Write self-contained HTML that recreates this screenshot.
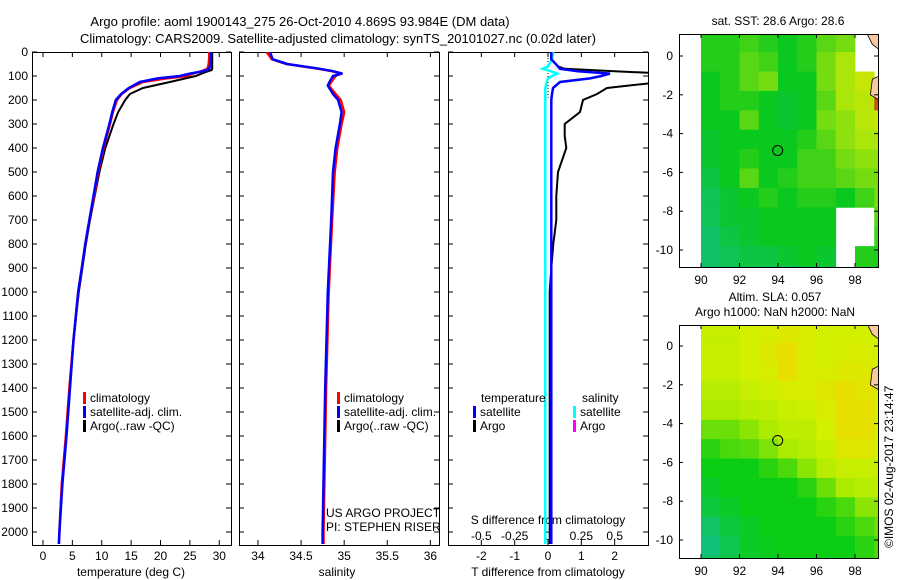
<!DOCTYPE html>
<html><head><meta charset="utf-8"><style>
body{margin:0;background:#fff;}
svg{display:block;font-family:"Liberation Sans",sans-serif;font-size:12px;}
</style></head><body>
<svg id="c" width="900" height="580" viewBox="0 0 900 580" xmlns="http://www.w3.org/2000/svg">
<text x="300" y="26" text-anchor="middle" font-size="13">Argo profile: aoml 1900143_275 26-Oct-2010 4.869S 93.984E (DM data)</text>
<text x="338" y="43" text-anchor="middle" font-size="13">Climatology: CARS2009. Satellite-adjusted climatology: synTS_20101027.nc (0.02d later)</text>
<text x="778" y="25" text-anchor="middle">sat. SST: 28.6 Argo: 28.6</text>
<text x="775" y="301" text-anchor="middle">Altim. SLA: 0.057</text>
<text x="775" y="316" text-anchor="middle">Argo h1000: NaN h2000: NaN</text>
<text transform="translate(893,548) rotate(-90)" font-size="12">©IMOS 02-Aug-2017 23:14:47</text>
<g id="g"></g>
</svg>
<script>
// ---- data ----
const depths = [0,20,50,70,80,90,100,110,125,150,175,200,250,300,400,500,600,700,800,900,1000,1200,1400,1600,1800,2000,2050];
const tempClim = [28.3,28.3,28.2,28.0,27.0,25.5,24.5,21.0,17.0,14.8,13.4,12.6,11.9,11.4,10.3,9.4,8.7,7.9,7.2,6.6,6.0,5.2,4.5,3.9,3.2,2.8,2.7];
const tempSat = [28.6,28.6,28.5,28.3,27.3,25.0,23.3,19.5,16.5,14.6,13.3,12.4,11.8,11.3,10.2,9.3,8.6,7.9,7.2,6.6,6.0,5.2,4.6,4.0,3.3,2.8,2.7];
const argoDepths = [0,20,50,70,75,85,100,125,150,175,200,250,300,400,500,600,700,800,900,1000,1200,1400,1600,1800,2000];
const tempArgo = [28.8,28.8,28.8,28.8,28.7,27.5,26.0,21.6,17.0,14.8,14.0,12.8,12.0,10.6,9.6,8.8,8.0,7.3,6.7,6.1,5.2,4.5,3.9,3.2,2.8];
const salDepths = [0,30,50,70,80,90,100,125,140,175,200,250,300,400,500,700,1000,1400,2000,2050];
const salClim = [34.10,34.16,34.33,34.70,34.86,34.95,34.90,34.85,34.82,34.90,34.96,35.00,34.97,34.92,34.89,34.86,34.82,34.79,34.76,34.76];
const salSat = [34.14,34.17,34.34,34.72,34.87,34.98,34.87,34.83,34.81,34.87,34.93,34.97,34.95,34.90,34.87,34.85,34.81,34.78,34.75,34.75];
const diffDepths = [0,30,60,70,80,90,100,110,125,150,175,200,250,300,350,400,500,600,700,800,900,1000,1200,1500,2000,2050];
const dTsat = [0.1,0.1,0.3,0.36,0.9,1.86,1.6,1.26,0.36,0.15,0.12,0.1,0.1,0.1,0.1,0.1,0.1,0.1,0.1,0.1,0.1,0.1,0.1,0.1,0.1,0.1];
const dTargo = [0.1,0.1,0.3,0.5,2.0,3.5,3.5,3.5,3.4,1.77,1.47,1.05,0.96,0.5,0.5,0.55,0.3,0.25,0.25,0.16,0.1,0.05,0.05,0.05,0.05,0.05];
const dSsat = [0.04,0.03,0.0,-0.04,0.02,0.07,0.03,0.0,-0.01,-0.02,-0.02,-0.02,-0.02,-0.02,-0.02,-0.02,-0.02,-0.02,-0.02,-0.02,-0.02,-0.02,-0.02,-0.02,-0.02,-0.02];
const depthTicks = [0,100,200,300,400,500,600,700,800,900,1000,1100,1200,1300,1400,1500,1600,1700,1800,1900,2000];
const tempTicks = [0,5,10,15,20,25,30];
const salTicks = [34,34.5,35,35.5,36];
const salTickLabels = ["34","34.5","35","35.5","36"];
const tdTicks = [-2,-1,0,1,2];
const sdTicks = [-0.5,-0.25,0,0.25,0.5];
const sdTickLabels = ["-0.5","-0.25","0","0.25","0.5"];
const lonTicks = [90,92,94,96,98];
const latTicks = [0,-2,-4,-6,-8,-10];
// map grids: rows from lat 1.2 southward (1 deg), cols from lon 90 (1 deg); -1 = no data
const sstGrid = [
[0.35,0.35,0.4,0.35,0.3,0.35,0.45,0.5,-1,-1],
[0.35,0.35,0.45,0.4,0.3,0.35,0.5,0.6,-1,-1],
[0.3,0.35,0.45,0.5,0.3,0.3,0.5,0.6,0.7,-1],
[0.3,0.35,0.35,0.3,0.25,0.3,0.45,0.6,0.65,0.95],
[0.3,0.3,0.45,0.3,0.25,0.3,0.5,0.55,0.65,0.7],
[0.25,0.3,0.3,0.3,0.3,0.35,0.45,0.55,0.6,0.6],
[0.25,0.3,0.35,0.3,0.3,0.4,0.4,0.5,0.55,0.55],
[0.2,0.3,0.45,0.3,0.35,0.4,0.4,0.45,0.5,0.5],
[0.15,0.25,0.3,0.35,0.3,0.35,0.35,0.3,0.4,0.5],
[0.15,0.25,0.25,0.3,0.3,0.3,0.3,-1,-1,0.45],
[0.1,0.2,0.25,0.3,0.3,0.3,0.3,-1,-1,0.4],
[0.1,0.15,0.2,0.2,0.25,0.3,0.25,-1,0.35,0.35],
[0.1,0.15,0.2,0.15,0.15,0.25,0.25,-1,0.35,0.3]];
const slaGrid = [
[0.65,0.65,0.7,0.72,0.75,0.72,0.7,0.7,0.7,0.7],
[0.65,0.65,0.7,0.75,0.8,0.72,0.7,0.72,0.72,0.7],
[0.65,0.65,0.7,0.72,0.8,0.72,0.72,0.75,0.75,0.72],
[0.6,0.6,0.65,0.68,0.72,0.72,0.76,0.8,0.78,0.72],
[0.55,0.55,0.6,0.62,0.66,0.68,0.72,0.8,0.8,0.72],
[0.45,0.45,0.5,0.55,0.62,0.62,0.7,0.8,0.8,0.72],
[0.35,0.4,0.42,0.48,0.55,0.6,0.66,0.76,0.76,0.7],
[0.3,0.3,0.3,0.35,0.4,0.5,0.6,0.65,0.65,0.65],
[0.25,0.3,0.3,0.3,0.3,0.35,0.45,0.55,0.6,0.6],
[0.2,0.25,0.3,0.3,0.3,0.3,0.35,0.4,0.5,0.5],
[0.1,0.2,0.25,0.3,0.3,0.3,0.3,0.35,0.4,0.45],
[0.05,0.15,0.25,0.28,0.3,0.3,0.3,0.3,0.35,0.4],
[0.1,0.2,0.25,0.28,0.3,0.3,0.3,0.3,0.35,0.4]];
const argoLon = 93.984, argoLat = -4.869;

// ---- helpers ----
const NS="http://www.w3.org/2000/svg", G=document.getElementById('g');
function mk(t,a,p){const e=document.createElementNS(NS,t);for(const k in a)e.setAttribute(k,a[k]);(p||G).appendChild(e);return e;}
const TOP=52, BOT=545;
const yD = d => TOP + d*0.24;
const panels = [
 {x0:32,x1:231,min:-1.87,max:32.0,name:'temperature-panel'},
 {x0:239,x1:439,min:33.78,max:36.1,name:'salinity-panel'},
 {x0:448,x1:648,min:-3,max:3,name:'difference-panel'}];
function sx(p,v){return p.x0+(v-p.min)/(p.max-p.min)*(p.x1-p.x0);}
function line(p,xs,ds,col,w,name){
  const pts=xs.map((v,i)=>sx(p,v).toFixed(1)+','+yD(ds[i]).toFixed(1)).join(' ');
  const e=mk('polyline',{points:pts,fill:'none',stroke:col,'stroke-width':w,'clip-path':'url(#cp'+panels.indexOf(p)+')'});
  
  
}
const defs=mk('defs',{});
panels.forEach((p,i)=>{const c=mk('clipPath',{id:'cp'+i},defs);mk('rect',{x:p.x0,y:TOP,width:p.x1-p.x0,height:BOT-TOP},c);});

panels.forEach((p,i)=>{
  const r=mk('rect',{x:p.x0+0.5,y:TOP+0.5,width:p.x1-p.x0,height:BOT-TOP,fill:'none',stroke:'#000'});
  
  
  depthTicks.forEach(d=>{
    mk('line',{x1:p.x0,x2:p.x0+5,y1:yD(d),y2:yD(d),stroke:'#000'});
    mk('line',{x1:p.x1-5,x2:p.x1,y1:yD(d),y2:yD(d),stroke:'#000'});
  });
});
depthTicks.forEach(d=>{
  const t=mk('text',{x:28,y:yD(d)+4,'text-anchor':'end'});t.textContent=d;
  
  
});
function xticks(p,vals,labels,yl,top){
  vals.forEach((v,i)=>{const x=sx(p,v);
    mk('line',{x1:x,x2:x,y1:BOT-5,y2:BOT,stroke:'#000'});
    if(top) mk('line',{x1:x,x2:x,y1:TOP,y2:TOP+5,stroke:'#000'});
    const t=mk('text',{x:x,y:yl,'text-anchor':'middle'});t.textContent=labels[i];
    
    
  });
}
xticks(panels[0],tempTicks,tempTicks.map(String),560,true);
xticks(panels[1],salTicks,salTickLabels,560,true);
xticks(panels[2],tdTicks,tdTicks.map(String),560,true);
const pS={x0:448,x1:648,min:-0.75,max:0.75};
sdTicks.forEach((v,i)=>{const t=mk('text',{x:sx(pS,v),y:540,'text-anchor':'middle'});t.textContent=sdTickLabels[i];
  
  });
function txt(x,y,s,name,anchor,col){const t=mk('text',{x:x,y:y,'text-anchor':anchor||'start',fill:col||'#000'});t.textContent=s;
  
  return t;}
txt(131,576,'temperature (deg C)','temperature-axis-title','middle');
txt(337,576,'salinity','salinity-axis-title','middle');
txt(548,576,'T difference from climatology','t-diff-axis-title','middle');
txt(548,524,'S difference from climatology','s-diff-axis-title','middle');
txt(326,517,'US ARGO PROJECT','project-label');
txt(326,531,'PI: STEPHEN RISER','pi-label');

mk('line',{x1:548,x2:548,y1:TOP,y2:yD(190),stroke:'#000','stroke-dasharray':'1,2'});

line(panels[0],tempArgo,argoDepths,'#000',2,'temp-argo-line');
line(panels[0],tempClim,depths,'#f00',2.5,'temp-climatology-line');
line(panels[0],tempSat,depths,'#00f',2.5,'temp-satellite-line');
line(panels[1],salClim,salDepths,'#f00',2.5,'sal-climatology-line');
line(panels[1],salSat,salDepths,'#00f',2.5,'sal-satellite-line');
line(panels[2],dTargo,diffDepths,'#000',2,'tdiff-argo-line');
line(panels[2],dSsat.map(v=>v*4),diffDepths,'#0ff',2.5,'sdiff-satellite-line');
line(panels[2],dTsat,diffDepths,'#00f',2.5,'tdiff-satellite-line');

function leg(x,y,col,s,name){const r=mk('rect',{x:x,y:y-10,width:3,height:12,fill:col});
  
  
  txt(x+7,y,s,name);}
leg(83,402,'#f00','climatology','legend-climatology');
leg(83,416,'#00f','satellite-adj. clim.','legend-satellite');
leg(83,430,'#000','Argo(..raw -QC)','legend-argo');
leg(337,402,'#f00','climatology','legend2-climatology');
leg(337,416,'#00f','satellite-adj. clim.','legend2-satellite');
leg(337,430,'#000','Argo(..raw -QC)','legend2-argo');
txt(481,402,'temperature','legend3-temperature-header');
txt(582,402,'salinity','legend3-salinity-header');
leg(473,416,'#00f','satellite','legend3-t-satellite');
leg(473,430,'#000','Argo','legend3-t-argo');
leg(573,416,'#0ff','satellite','legend3-s-satellite');
leg(573,430,'#f0f','Argo','legend3-s-argo');

function lerp(a,b,t){return a.map((v,i)=>Math.round(v+(b[i]-v)*t));}
function cmap(v,stops){for(let i=1;i<stops.length;i++){if(v<=stops[i][0]){const t=(v-stops[i-1][0])/(stops[i][0]-stops[i-1][0]);const c=lerp(stops[i-1][1],stops[i][1],t);return 'rgb('+c.join(',')+')';}}return 'rgb('+stops[stops.length-1][1].join(',')+')';}
const sstStops=[[0,[20,190,140]],[0.3,[10,200,30]],[0.6,[170,230,10]],[0.8,[230,230,0]],[0.9,[240,160,0]],[1,[160,10,10]]];
const slaStops=[[0,[20,190,140]],[0.3,[10,205,20]],[0.55,[170,235,0]],[0.7,[210,240,0]],[0.85,[240,215,0]],[1,[240,180,0]]];
function drawMap(grid,stops,top,lat0px,name,ci){
  const mx0=679,mx1=878,my0=top,my1=top+233;
  const lx=v=>701+(v-90)*19.25, ly=v=>lat0px-v*19.4;
  const c=mk('clipPath',{id:'mc'+ci},defs);mk('rect',{x:mx0,y:my0,width:mx1-mx0,height:my1-my0},c);
  const g=mk('g',{'clip-path':'url(#mc'+ci+')'});
  
  
  grid.forEach((row,r)=>row.forEach((v,k)=>{
    if(v<0)return;
    const lat=1.2-r, lon=90+k;
    const e=mk('rect',{x:lx(lon),y:ly(lat),width:19.6,height:19.8,fill:cmap(v,stops)},g);
    
    
  }));
  mk('path',{d:`M${lx(98.6)} ${ly(1.2)} L${lx(99.3)} ${ly(1.2)} L${lx(99.3)} ${ly(0.3)} L${lx(98.9)} ${ly(0.6)} Z`,fill:'#f8c8a0',stroke:'#000','stroke-width':0.8},g);
  mk('path',{d:`M${lx(98.9)} ${ly(-1.2)} L${lx(99.3)} ${ly(-1.0)} L${lx(99.3)} ${ly(-2.3)} L${lx(98.8)} ${ly(-2.0)} Z`,fill:'#f8c8a0',stroke:'#000','stroke-width':0.8},g);
  const f=mk('rect',{x:mx0+0.5,y:my0+0.5,width:mx1-mx0,height:my1-my0,fill:'none',stroke:'#000'});
  
  
  lonTicks.forEach(v=>{const x=lx(v);mk('line',{x1:x,x2:x,y1:my1-4,y2:my1,stroke:'#000'});mk('line',{x1:x,x2:x,y1:my0,y2:my0+4,stroke:'#000'});
    txt(x,my1+17,String(v),name+'-lon-label','middle');});
  latTicks.forEach(v=>{const y=ly(v);if(y<my0||y>my1)return;mk('line',{x1:mx0,x2:mx0+4,y1:y,y2:y,stroke:'#000'});mk('line',{x1:mx1-4,x2:mx1,y1:y,y2:y,stroke:'#000'});
    txt(mx0-6,y+4,String(v),name+'-lat-label','end');});
  const m=mk('circle',{cx:lx(argoLon),cy:ly(argoLat),r:5,fill:'none',stroke:'#000'});
  
  
}
drawMap(sstGrid,sstStops,34,56,'sst-map',0);
drawMap(slaGrid,slaStops,325,346,'sla-map',1);
</script>
</body></html>
